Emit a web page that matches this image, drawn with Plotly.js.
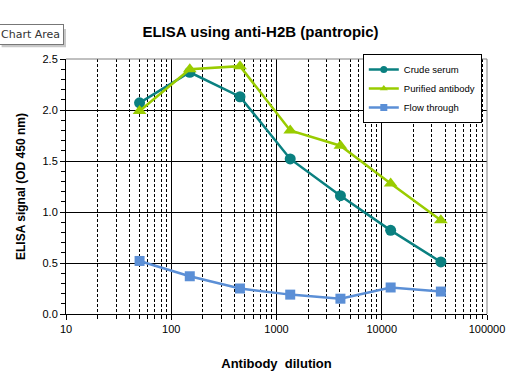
<!DOCTYPE html>
<html>
<head>
<meta charset="utf-8">
<script src="https://cdn.plot.ly/plotly-3.0.1.min.js"></script>
<style>html,body{margin:0;padding:0;background:#fff;}#chart{width:521px;height:376px;}</style>
</head>
<body>
<div id="chart"></div>
<script>
const dilutions = [50, 150, 450, 1350, 4050, 12150, 36450];
const crudeSerum = [2.07, 2.37, 2.13, 1.52, 1.16, 0.82, 0.51];
const purifiedAntibody = [1.99, 2.40, 2.43, 1.80, 1.65, 1.28, 0.92];
const flowThrough = [0.52, 0.37, 0.25, 0.19, 0.15, 0.26, 0.22];
const seriesNames = ['Crude serum', 'Purified antibody', 'Flow through'];
const seriesColors = ['#0a8080', '#99cc00', '#5b8fd6'];
const seriesSymbols = ['circle', 'triangle-up', 'square'];
const seriesSizes = [11, 12, 10];
const seriesValues = [crudeSerum, purifiedAntibody, flowThrough];

const font = 'Liberation Sans, Arial, sans-serif';
const traces = [];
seriesValues.forEach((vals, i) => {
  traces.push({x: dilutions, y: vals, name: seriesNames[i], mode: 'lines+markers', showlegend: false,
    line: {color: seriesColors[i], width: 2.5}, marker: {symbol: seriesSymbols[i], size: seriesSizes[i], color: seriesColors[i]}});
});
seriesValues.forEach((vals, i) => {
  traces.push({x: [null], y: [null], name: seriesNames[i], mode: 'lines+markers', showlegend: true,
    line: {color: seriesColors[i], width: 2.5}, marker: {symbol: seriesSymbols[i], size: 7, color: seriesColors[i]}});
});

const layout = {
  width: 521, height: 376,
  margin: {l: 66, r: 34, t: 59, b: 62},
  paper_bgcolor: '#fff', plot_bgcolor: '#fff',
  font: {family: font, color: '#000', size: 11},
  title: {text: 'ELISA using anti-H2B (pantropic)', font: {family: font, size: 15, color: '#000', weight: 'bold'},
          x: 0.5, xanchor: 'center', y: 0.915, yanchor: 'middle'},
  showlegend: true,
  legend: {x: 0.705, y: 1.02, xanchor: 'left', yanchor: 'top', bgcolor: '#fff', bordercolor: '#000', borderwidth: 1,
           font: {family: font, size: 9.5, color: '#000'}, tracegroupgap: 0, itemsizing: 'trace'},
  xaxis: {
    type: 'log', range: [1, 5], tickvals: [10, 100, 1000, 10000, 100000],
    ticktext: ['10', '100', '1000', '10000', '100000'],
    showline: true, linecolor: '#000', linewidth: 1, mirror: false,
    ticks: 'outside', ticklen: 5, tickcolor: '#000',
    showgrid: true, gridcolor: '#000', gridwidth: 1,
    minor: {showgrid: true, gridcolor: '#000', griddash: '3px,2px', gridwidth: 1, ticks: 'outside', ticklen: 4, tickcolor: '#000', dtick: 'D1'},
    zeroline: false, tickfont: {family: font, size: 11, color: '#000'},
    title: {text: 'Antibody  dilution', font: {family: font, size: 13, color: '#000', weight: 'bold'}, standoff: 24}
  },
  yaxis: {
    range: [0, 2.5], dtick: 0.5, tickformat: '.1f',
    showline: true, linecolor: '#000', linewidth: 1,
    ticks: 'outside', ticklen: 5, tickcolor: '#000',
    showgrid: true, gridcolor: '#000', gridwidth: 1,
    minor: {dtick: 0.1, ticks: 'outside', ticklen: 4, tickcolor: '#000', showgrid: false},
    zeroline: false, tickfont: {family: font, size: 11, color: '#000'},
    title: {text: 'ELISA signal (OD 450 nm)', font: {family: font, size: 12, color: '#000', weight: 'bold'}, standoff: 14}
  },
  shapes: [
    {type: 'line', xref: 'paper', yref: 'paper', x0: 0, x1: 1, y0: 1, y1: 1, line: {color: '#808080', width: 1}},
    {type: 'line', xref: 'paper', yref: 'paper', x0: 1, x1: 1, y0: 0, y1: 1, line: {color: '#808080', width: 1}},
    {type: 'rect', xref: 'paper', yref: 'paper', x0: -0.153, x1: 0.0, y0: 1.046, y1: 1.118, layer: 'below',
     fillcolor: '#c8c8c8', line: {width: 0}}
  ],
  annotations: [
    {text: 'Chart Area', xref: 'paper', yref: 'paper', x: -0.165, y: 1.095, xanchor: 'left', yanchor: 'middle',
     showarrow: false, font: {family: 'DejaVu Sans, sans-serif', size: 11, color: '#333'},
     bgcolor: '#fff', bordercolor: '#777', borderwidth: 1, borderpad: 3}
  ]
};

Plotly.newPlot('chart', traces, layout, {displayModeBar: false, staticPlot: true});
</script>
</body>
</html>
